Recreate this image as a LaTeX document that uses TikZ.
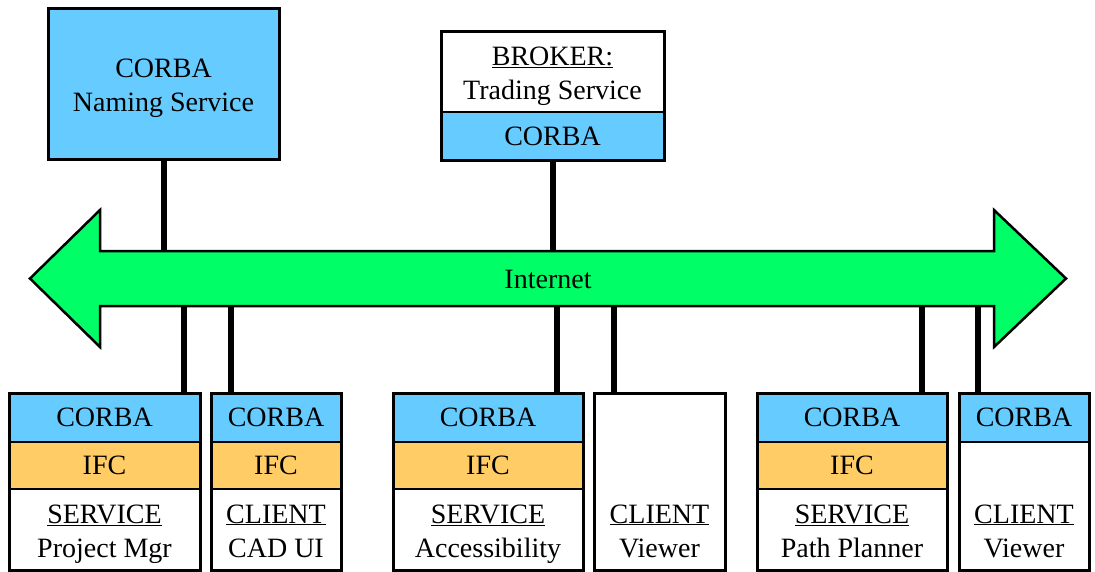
\documentclass[tikz,border=0pt]{standalone}
\usepackage{fontspec}
\setmainfont{Liberation Serif}
\usetikzlibrary{positioning}
\definecolor{corbablue}{RGB}{102,204,255}
\definecolor{ifcorange}{RGB}{255,204,102}
\definecolor{netgreen}{RGB}{0,255,102}
% two lines of a box, with fixed baselines
\newcommand{\twolines}[2]{\rule{0pt}{28pt}#1\\#2\rule[-7pt]{0pt}{7pt}}
\tikzset{
	band/.style={draw, line width=1.5pt, inner sep=0pt, outer sep=0pt, align=center,
		minimum width=#1, font=\fontsize{28}{34}\selectfont},
	corba/.style={band=#1, fill=corbablue, minimum height=49pt},
	ifc/.style={band=#1, fill=ifcorange, minimum height=47pt},
	role/.style={band=#1, fill=white, minimum height=81pt},
	frame/.style={draw, line width=3pt},
	link/.style={draw, line width=6pt},
	net/.style={draw, line width=2.5pt, fill=netgreen, line join=miter}
}
\begin{document}
\begin{tikzpicture}[x=1pt,y=-1pt]
		\path[use as bounding box] (0,0) rectangle (1095,571);
		% Internet arrow
		\draw[net] (30,278.5) -- (100,210) -- (100,251) -- (994,251) -- (994,210) -- (1066,278.5)
			-- (994,347) -- (994,306) -- (100,306) -- (100,347) -- cycle;
		\node[font=\fontsize{28}{34}\selectfont] (inet) at (548,279.5) {Internet};
		\coordinate (netTop) at (548,251);
		
		% naming service and broker
		\node[band=231pt, fill=corbablue, minimum height=151pt, line width=3pt, anchor=north west] (naming) at (48,8) {\twolines{CORBA}{Naming Service}};
		\node[band=223pt, fill=white, minimum height=81pt, anchor=north west] (broker) at (441,31) {\twolines{\underline{BROKER:}}{Trading Service}};
		\node[corba=223pt, minimum height=48pt, below=0pt of broker] (brokerC) {CORBA};
		\draw[frame] (broker.north west) rectangle (brokerC.south east);
		\draw[link] (naming.south) -- (naming.south |- netTop);
		\draw[link] (brokerC.south) -- (brokerC.south |- netTop);
		
		% project manager
		\node[corba=191pt, anchor=north west] (pmC) at (9,393) {CORBA};
		\node[ifc=191pt, below=0pt of pmC] (pmI) {IFC};
		\node[role=191pt, below=0pt of pmI] (pm) {\twolines{\underline{SERVICE}}{Project Mgr}};
		\draw[frame] (pmC.north west) rectangle (pm.south east);
		
		% cad ui
		\node[corba=130pt, anchor=north west] (cadC) at (211,393) {CORBA};
		\node[ifc=130pt, below=0pt of cadC] (cadI) {IFC};
		\node[role=130pt, below=0pt of cadI] (cad) {\twolines{\underline{CLIENT}}{CAD UI}};
		\draw[frame] (cadC.north west) rectangle (cad.south east);
		
		% accessibility
		\node[corba=190pt, anchor=north west] (accC) at (393,393) {CORBA};
		\node[ifc=190pt, below=0pt of accC] (accI) {IFC};
		\node[role=190pt, below=0pt of accI] (acc) {\twolines{\underline{SERVICE}}{Accessibility}};
		\draw[frame] (accC.north west) rectangle (acc.south east);
		
		% viewer without corba
		\node[band=131pt, draw=none, minimum height=96pt, anchor=north west] (vwaT) at (594,393) {};
		\node[role=131pt, draw=none, below=0pt of vwaT] (vwa) {\twolines{\underline{CLIENT}}{Viewer}};
		\draw[frame] (vwaT.north west) rectangle (vwa.south east);
		
		% path planner
		\node[corba=190pt, anchor=north west] (ppC) at (757,393) {CORBA};
		\node[ifc=190pt, below=0pt of ppC] (ppI) {IFC};
		\node[role=190pt, below=0pt of ppI] (pp) {\twolines{\underline{SERVICE}}{Path Planner}};
		\draw[frame] (ppC.north west) rectangle (pp.south east);
		
		% viewer with corba
		\node[corba=130pt, anchor=north west] (vwbC) at (959,393) {CORBA};
		\node[band=130pt, draw=none, minimum height=47pt, below=0pt of vwbC] (vwbI) {};
		\node[role=130pt, draw=none, below=0pt of vwbI] (vwb) {\twolines{\underline{CLIENT}}{Viewer}};
		\draw[frame] (vwbC.north west) rectangle (vwb.south east);
		
		% links to the bottom row
		\coordinate (t1) at (184,306);
		\coordinate (t2) at (231,306);
		\coordinate (t3) at (557,306);
		\coordinate (t4) at (614,306);
		\coordinate (t5) at (922,306);
		\coordinate (t6) at (978,306);
		\draw[link] (t1) -- (t1 |- pmC.north);
		\draw[link] (t2) -- (t2 |- cadC.north);
		\draw[link] (t3) -- (t3 |- accC.north);
		\draw[link] (t4) -- (t4 |- vwaT.north);
		\draw[link] (t5) -- (t5 |- ppC.north);
		\draw[link] (t6) -- (t6 |- vwbC.north);
		
	\end{tikzpicture}
\end{document}
